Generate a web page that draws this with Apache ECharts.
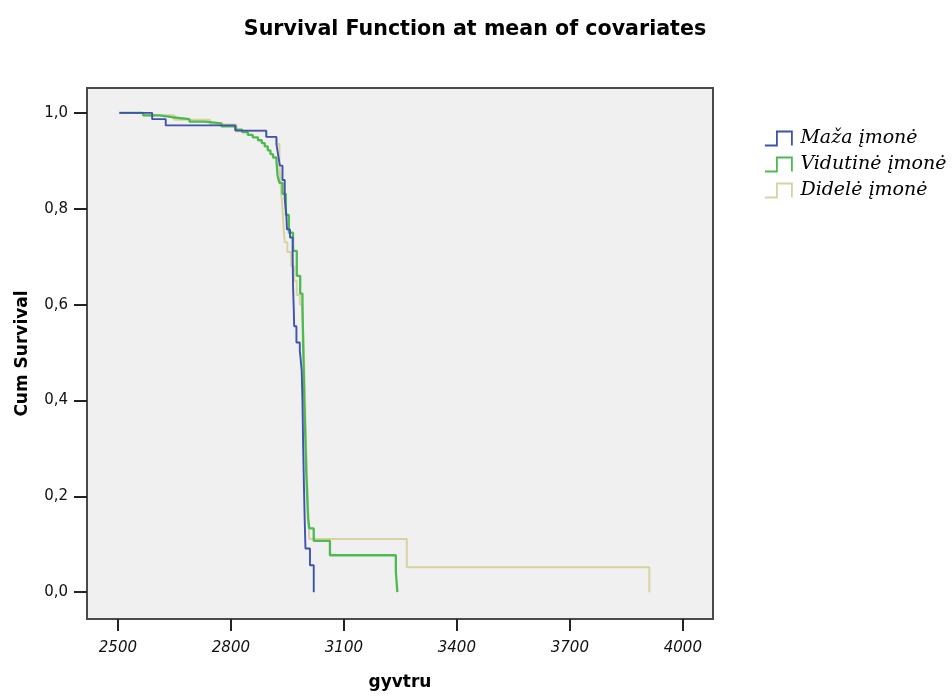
<!DOCTYPE html>
<html>
<head>
<meta charset="utf-8">
<script src="https://cdn.jsdelivr.net/npm/echarts@6/dist/echarts.min.js"></script>
<style>html,body{margin:0;padding:0;background:#fff}#c{width:952px;height:696px}</style>
</head>
<body>
<div id="c"></div>
<script>
// ---- data ----
var seriesNames = ['Maža įmonė', 'Vidutinė įmonė', 'Didelė įmonė'];
var seriesColors = ['#3f52b0', '#4cba50', '#d8d2a2'];

var mazaTime = [2504, 2591, 2627, 2812, 2894, 2921, 2926, 2930, 2937, 2943, 2947, 2949, 2957, 2964, 2965, 2967, 2968, 2974, 2983, 2988, 2990, 2992, 2994, 2996, 2998, 3010, 3020];
var mazaSurv = [1.0, 0.987, 0.974, 0.963, 0.950, 0.935, 0.91, 0.89, 0.86, 0.82, 0.79, 0.757, 0.74, 0.70, 0.639, 0.59, 0.555, 0.521, 0.504, 0.462, 0.40, 0.30, 0.22, 0.15, 0.091, 0.056, 0];

var vidTime = [2504, 2567, 2610, 2644, 2690, 2731, 2775, 2812, 2830, 2845, 2858, 2872, 2882, 2890, 2898, 2905, 2912, 2921, 2924, 2929, 2937, 2946, 2954, 2965, 2975, 2984, 2990, 2992, 2995, 3000, 3005, 3008, 3020, 3063, 3238, 3242];
var vidSurv = [1.0, 0.995, 0.991, 0.987, 0.982, 0.978, 0.972, 0.965, 0.960, 0.954, 0.949, 0.943, 0.937, 0.930, 0.922, 0.914, 0.907, 0.900, 0.869, 0.854, 0.831, 0.787, 0.75, 0.712, 0.66, 0.623, 0.60, 0.512, 0.40, 0.252, 0.155, 0.133, 0.107, 0.077, 0.042, 0];

var didTime = [2504, 2570, 2650, 2745, 2815, 2894, 2921, 2929, 2933, 2937, 2940, 2943, 2950, 2960, 2968, 2975, 2983, 2990, 2994, 2997, 3000, 3003, 3006, 3008, 3267, 3911];
var didSurv = [1.0, 0.995, 0.986, 0.976, 0.962, 0.950, 0.935, 0.89, 0.84, 0.80, 0.76, 0.73, 0.71, 0.68, 0.65, 0.62, 0.60, 0.585, 0.50, 0.40, 0.30, 0.22, 0.15, 0.111, 0.052, 0];

var xTicks = [2500, 2800, 3100, 3400, 3700, 4000];
var yTicks = [0, 0.2, 0.4, 0.6, 0.8, 1.0];

var titleText = 'Survival Function at mean of covariates';
var xName = 'gyvtru';
var yName = 'Cum Survival';

function pairs(t, s) { return t.map(function (v, i) { return [v, s[i]]; }); }
var seriesData = [pairs(mazaTime, mazaSurv), pairs(vidTime, vidSurv), pairs(didTime, didSurv)];
var zOrder = [5, 4, 3];
var widths = [1.9, 2.3, 2];

var chart = echarts.init(document.getElementById('c'), null, { renderer: 'canvas' });
chart.setOption({
  backgroundColor: '#ffffff',
  animation: false,
  title: {
    text: titleText,
    left: 470, top: 14, textAlign: 'center',
    textStyle: { fontFamily: 'DejaVu Sans', fontWeight: 'bold', fontSize: 20.6, color: '#000' }
  },
  legend: {
    orient: 'vertical',
    left: 759, top: 124,
    itemWidth: 28, itemHeight: 14, itemGap: 7,
    icon: 'path://M0,14 L12,14 L12,0 L27,0 L27,14',
    textStyle: { fontFamily: 'DejaVu Serif', fontStyle: 'italic', fontSize: 19, color: '#000', padding: [0, 0, 0, 3] },
    data: seriesNames.map(function (n, i) {
      return { name: n, itemStyle: { color: 'rgba(0,0,0,0)', borderColor: seriesColors[i], borderWidth: 1.8 } };
    })
  },
  grid: {
    left: 87, top: 88, right: 239, bottom: 75,
    show: true, backgroundColor: '#f0f0f0', borderColor: '#4a4a4a', borderWidth: 2
  },
  xAxis: {
    type: 'value', min: 2418, max: 4080,
    name: xName, nameLocation: 'middle', nameGap: 55,
    nameTextStyle: { fontFamily: 'DejaVu Sans', fontWeight: 'bold', fontSize: 17, color: '#000' },
    axisLine: { show: false, onZero: false },
    splitLine: { show: false },
    axisTick: { show: true, inside: false, length: 12, customValues: xTicks, lineStyle: { color: '#222', width: 2 } },
    axisLabel: {
      customValues: xTicks, margin: 22, fontFamily: 'DejaVu Sans', fontStyle: 'italic', fontSize: 15, color: '#111',
      formatter: function (v) { return String(v); }
    }
  },
  yAxis: {
    type: 'value', min: -0.056, max: 1.052,
    name: yName, nameLocation: 'middle', nameGap: 56, nameRotate: 90,
    nameTextStyle: { fontFamily: 'DejaVu Sans', fontWeight: 'bold', fontSize: 17, color: '#000' },
    axisLine: { show: false, onZero: false },
    splitLine: { show: false },
    axisTick: { show: true, inside: false, length: 13, customValues: yTicks, lineStyle: { color: '#222', width: 2 } },
    axisLabel: {
      customValues: yTicks, margin: 19, fontFamily: 'DejaVu Sans', fontSize: 15, color: '#111',
      formatter: function (v) { return v.toFixed(1).replace('.', ','); }
    }
  },
  series: seriesData.map(function (d, i) {
    return {
      name: seriesNames[i], type: 'line', step: 'end', data: d,
      showSymbol: false, symbol: 'none', z: zOrder[i],
      lineStyle: { color: seriesColors[i], width: widths[i] },
      itemStyle: { color: seriesColors[i] }
    };
  })
});
</script>
</body>
</html>
